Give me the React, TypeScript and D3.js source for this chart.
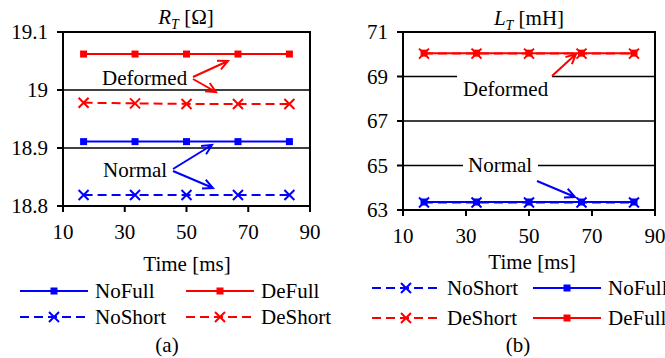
import React from "react";
import * as d3 from "d3";

// time stamps [ms]
const times = [16.67, 33.33, 50, 66.67, 83.33];

// R_T [Ohm]
const rNoFull = [18.911, 18.911, 18.911, 18.911, 18.911];
const rDeFull = [19.062, 19.062, 19.062, 19.062, 19.062];
const rNoShort = [18.819, 18.819, 18.819, 18.819, 18.819];
const rDeShort = [18.978, 18.977, 18.976, 18.976, 18.976];

// L_T [mH]
const lNoFull = [63.36, 63.36, 63.36, 63.36, 63.36];
const lDeFull = [70.05, 70.05, 70.05, 70.05, 70.05];
const lNoShort = [63.34, 63.34, 63.34, 63.34, 63.34];
const lDeShort = [70.03, 70.03, 70.03, 70.03, 70.03];

const xTicks = [10, 30, 50, 70, 90];
const rTicks = [18.8, 18.9, 19.0, 19.1];
const lTicks = [63, 65, 67, 69, 71];

const BLUE = "#0000ff";
const RED = "#ff0000";
const TXT: React.CSSProperties = { fontFamily: '"Liberation Serif"', fontSize: 21 };

type Scale = d3.ScaleLinear<number, number>;

const T = (p: { x: number; y: number; anchor?: "start" | "middle" | "end"; children: React.ReactNode }) => (
  <text x={p.x} y={p.y} dy="0.35em" textAnchor={p.anchor || "start"} fill="#000" style={TXT}>
    {p.children}
  </text>
);

function Marker({ x, y, color, short }: { x: number; y: number; color: string; short: boolean }) {
  if (short) {
    const s = 5;
    return <path d={`M${x - s},${y - s}L${x + s},${y + s}M${x - s},${y + s}L${x + s},${y - s}`} stroke={color} strokeWidth={2} fill="none" />;
  }
  return <rect x={x - 3.5} y={y - 3.5} width={7} height={7} fill={color} />;
}

function Series({ x, y, vals, color, short }: { x: Scale; y: Scale; vals: number[]; color: string; short: boolean }) {
  const pts = times.map((t, i) => [x(t), y(vals[i])] as [number, number]);
  return (
    <g>
      <path d={d3.line()(pts) || ""} fill="none" stroke={color} strokeWidth={2} strokeDasharray={short ? "9,5" : undefined} />
      {pts.map(([px, py], i) => (
        <Marker key={i} x={px} y={py} color={color} short={short} />
      ))}
    </g>
  );
}

function Arrow({ x1, y1, x2, y2, color }: { x1: number; y1: number; x2: number; y2: number; color: string }) {
  const a = Math.atan2(y2 - y1, x2 - x1);
  const L = 11;
  const w = 0.45;
  const d = `M${x1},${y1}L${x2},${y2}M${x2 - L * Math.cos(a - w)},${y2 - L * Math.sin(a - w)}L${x2},${y2}L${x2 - L * Math.cos(a + w)},${y2 - L * Math.sin(a + w)}`;
  return <path d={d} stroke={color} strokeWidth={2} fill="none" />;
}

function Frame({ x, y, ticks, fmt }: { x: Scale; y: Scale; ticks: number[]; fmt: (v: number) => string }) {
  const [x0, x1] = x.range();
  const [y0, y1] = y.range();
  return (
    <g>
      {ticks.slice(1, -1).map((t) => (
        <line key={"g" + t} x1={x0} x2={x1} y1={y(t)} y2={y(t)} stroke="#000" strokeWidth={1.5} />
      ))}
      <rect x={x0} y={y1} width={x1 - x0} height={y0 - y1} fill="none" stroke="#000" strokeWidth={2} />
      {ticks.map((t) => (
        <g key={"y" + t}>
          <line x1={x0 - 6} x2={x0} y1={y(t)} y2={y(t)} stroke="#000" strokeWidth={2} />
          <T x={x0 - 15} y={y(t)} anchor="end">{fmt(t)}</T>
        </g>
      ))}
      {xTicks.map((t) => (
        <g key={"x" + t}>
          <line x1={x(t)} x2={x(t)} y1={y0} y2={y0 + 6} stroke="#000" strokeWidth={2} />
          <T x={x(t)} y={y0 + 26} anchor="middle">{String(t)}</T>
        </g>
      ))}
    </g>
  );
}

function LegendItem({ x, y, color, short, label }: { x: number; y: number; color: string; short: boolean; label: string }) {
  return (
    <g>
      <line x1={x} x2={x + 68} y1={y} y2={y} stroke={color} strokeWidth={2} strokeDasharray={short ? "9,5" : undefined} />
      <Marker x={x + 34} y={y} color={color} short={short} />
      <T x={x + 75} y={y}>{label}</T>
    </g>
  );
}

function Title({ x, y, sym, unit }: { x: number; y: number; sym: string; unit: string }) {
  return (
    <text x={x} y={y} dy="0.35em" textAnchor="middle" fill="#000" style={TXT}>
      <tspan style={{ fontStyle: "italic" }}>{sym}</tspan>
      <tspan style={{ fontStyle: "italic", fontSize: 14 }} dy={5}>T</tspan>
      <tspan dy={-5}>{" " + unit}</tspan>
    </text>
  );
}

export default function App() {
  const xL = d3.scaleLinear().domain([10, 90]).range([63, 310]);
  const yL = d3.scaleLinear().domain([18.8, 19.1]).range([206, 32]);
  const xR = d3.scaleLinear().domain([10, 90]).range([403, 655]);
  const yR = d3.scaleLinear().domain([63, 71]).range([210, 32]);

  return (
    <div style={{ position: "absolute", left: 0, top: 0, width: 665, height: 358, background: "#fff" }}>
      <svg width={665} height={358} style={{ display: "block" }}>
        {/* (a) R_T */}
        <Frame x={xL} y={yL} ticks={rTicks} fmt={(v) => (v === 19 ? "19" : v.toFixed(1))} />
        <Title x={186} y={17} sym="R" unit="[Ω]" />
        <Series x={xL} y={yL} vals={rDeFull} color={RED} short={false} />
        <Series x={xL} y={yL} vals={rDeShort} color={RED} short={true} />
        <Series x={xL} y={yL} vals={rNoFull} color={BLUE} short={false} />
        <Series x={xL} y={yL} vals={rNoShort} color={BLUE} short={true} />
        <T x={102} y={78}>Deformed</T>
        <Arrow x1={193} y1={77} x2={228} y2={61} color={RED} />
        <Arrow x1={193} y1={79} x2={216} y2={92} color={RED} />
        <T x={103} y={170}>Normal</T>
        <Arrow x1={173} y1={169} x2={212} y2={145} color={BLUE} />
        <Arrow x1={173} y1={171} x2={213} y2={188} color={BLUE} />
        <T x={187} y={264} anchor="middle">Time [ms]</T>
        <T x={167} y={345} anchor="middle">(a)</T>
        <LegendItem x={20} y={291} color={BLUE} short={false} label="NoFull" />
        <LegendItem x={186} y={291} color={RED} short={false} label="DeFull" />
        <LegendItem x={20} y={317} color={BLUE} short={true} label="NoShort" />
        <LegendItem x={186} y={317} color={RED} short={true} label="DeShort" />

        {/* (b) L_T */}
        <Frame x={xR} y={yR} ticks={lTicks} fmt={(v) => String(v)} />
        <Title x={529} y={18} sym="L" unit="[mH]" />
        <rect x={457} y={72} width={95} height={8} fill="#fff" />
        <rect x={463} y={160} width={75} height={10} fill="#fff" />
        <Series x={xR} y={yR} vals={lDeFull} color={RED} short={false} />
        <Series x={xR} y={yR} vals={lDeShort} color={RED} short={true} />
        <Series x={xR} y={yR} vals={lNoFull} color={BLUE} short={false} />
        <Series x={xR} y={yR} vals={lNoShort} color={BLUE} short={true} />
        <T x={463} y={89}>Deformed</T>
        <Arrow x1={552} y1={76} x2={576} y2={54} color={RED} />
        <T x={468} y={165}>Normal</T>
        <Arrow x1={537} y1={181} x2={575} y2={197} color={BLUE} />
        <T x={532} y={262} anchor="middle">Time [ms]</T>
        <T x={518} y={345} anchor="middle">(b)</T>
        <LegendItem x={372} y={288} color={BLUE} short={true} label="NoShort" />
        <LegendItem x={533} y={288} color={BLUE} short={false} label="NoFull" />
        <LegendItem x={372} y={318} color={RED} short={true} label="DeShort" />
        <LegendItem x={533} y={318} color={RED} short={false} label="DeFull" />
      </svg>
    </div>
  );
}
